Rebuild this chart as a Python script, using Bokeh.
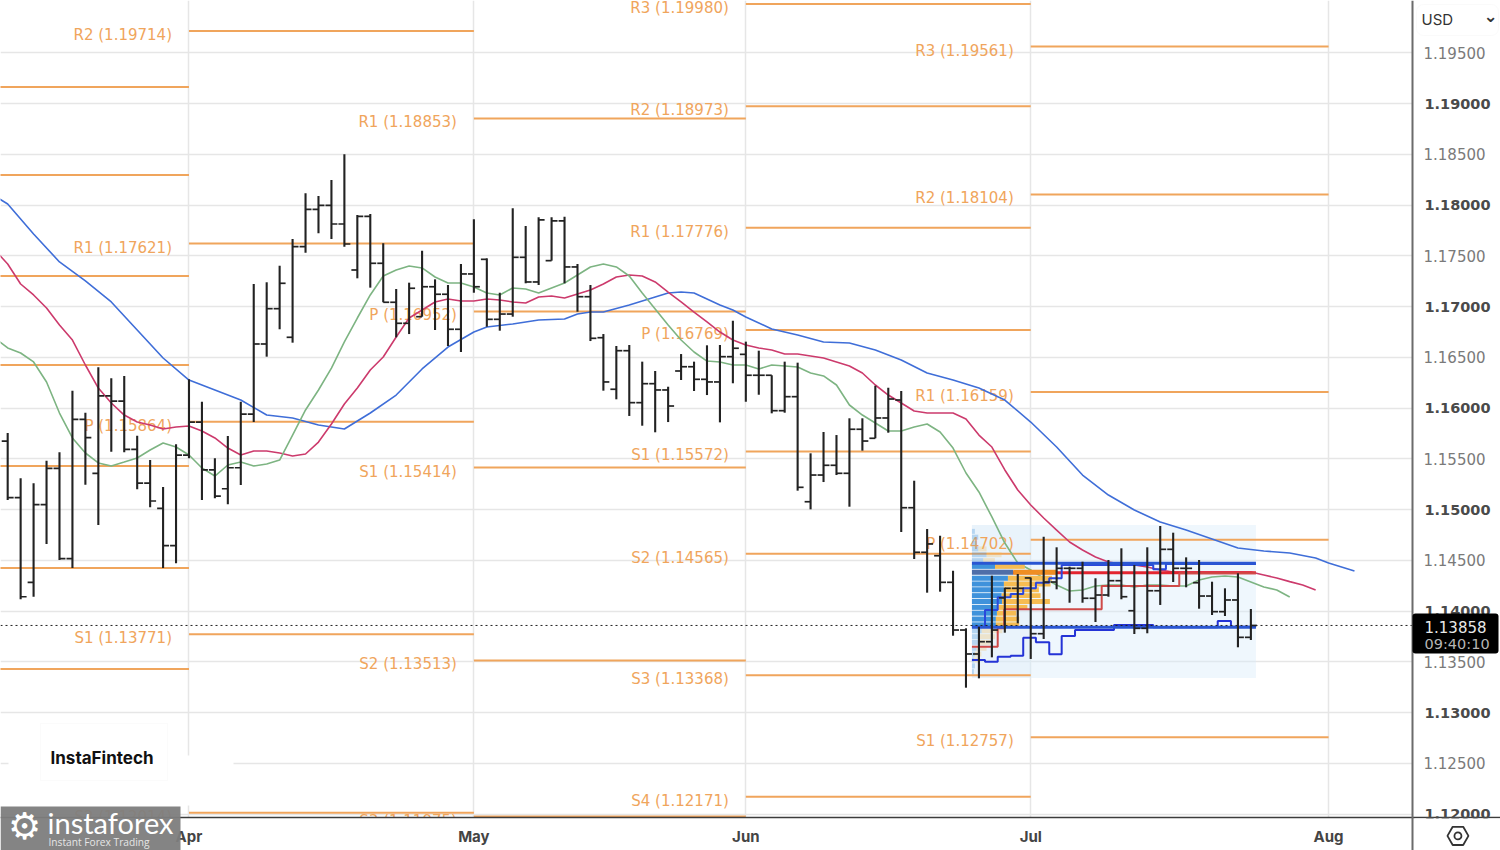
from bokeh.plotting import figure
from bokeh.embed import file_html
from bokeh.resources import INLINE
from bokeh.core.properties import value
from bokeh.models import (ColumnDataSource, FixedTicker, Label, BoxAnnotation, Grid,
                          LinearAxis, Range1d, NumeralTickFormatter)

first_bar = -14
highs = [1.15754,1.15308,1.15259,1.15481,1.15564,1.16171,1.15954,1.16401,1.16293,1.16316,1.15727,1.15488,1.15222,1.15643,
1.16283,1.16062,1.15505,1.15725,1.16062,1.17222,1.17239,1.17402,1.17665,1.18116,1.18089,1.18247,1.185,1.17902,1.17912,1.17623,1.17173,1.17235,1.1755,1.17268,1.17212,1.17419,
1.17859,1.17475,1.17136,1.17968,1.17793,1.17879,1.17879,1.17885,1.17419,1.17212,1.16729,1.16611,1.16621,1.16457,1.16365,1.1621,1.16532,1.16457,1.16618,1.16621,1.1686,
1.16654,1.16565,1.16323,1.16457,1.16447,1.15554,1.15764,1.15734,1.15899,1.15899,1.1622,1.162,1.16168,1.15284,1.14808,1.14742,1.14397,1.1383,1.13846,1.14348,1.1423,1.14365,
1.1433,1.14732,1.14628,1.14437,1.14486,1.14323,1.14503,1.14618,1.14454,1.14628,1.14838,1.14772,1.14529,1.14503,1.14289,1.14224,1.14372,1.1402]
lows = [1.15094,1.14116,1.14141,1.14661,1.14503,1.14424,1.15245,1.14848,1.1557,1.15564,1.15199,1.15022,1.14424,1.1447,
1.15505,1.15094,1.15111,1.15052,1.15242,1.15862,1.16506,1.16776,1.16644,1.1753,1.17722,1.17665,1.1759,1.17278,1.17186,1.17042,1.16697,1.16729,1.169,1.16769,1.16611,1.16552,
1.17136,1.16801,1.16762,1.169,1.17229,1.17212,1.17452,1.17229,1.16949,1.1666,1.16171,1.16086,1.15922,1.15826,1.15761,1.15862,1.16276,1.16168,1.16128,1.15859,1.16244,
1.16062,1.16131,1.15948,1.15954,1.15186,1.15002,1.15271,1.1534,1.15028,1.1558,1.15702,1.15757,1.14779,1.14513,1.14181,1.14191,1.13757,1.13245,1.13337,1.13544,1.13787,1.13879,
1.13528,1.13725,1.14214,1.14082,1.14082,1.13892,1.14141,1.14116,1.13774,1.13781,1.1406,1.14286,1.14234,1.14023,1.13961,1.13951,1.13643,1.13715]
opens = [1.15675,1.15117,1.14283,1.15048,1.15406,1.14516,1.15889,1.15357,1.16119,1.16069,1.15593,1.15261,1.15012,1.14644,
1.15537,1.15862,1.1539,1.15205,1.15412,1.15941,1.16631,1.16979,1.16697,1.1759,1.17958,1.17997,1.17813,1.1736,1.17889,1.17426,1.17042,1.16835,1.169,1.17195,1.17121,1.16776,
1.17321,1.17465,1.16874,1.16926,1.17485,1.17242,1.17452,1.17843,1.1739,1.17097,1.16693,1.16185,1.16565,1.16053,1.1624,1.16178,1.16365,1.16407,1.16283,1.16257,1.16506,
1.16529,1.16323,1.16323,1.15974,1.16112,1.15077,1.1534,1.15436,1.15357,1.15791,1.15702,1.15902,1.16079,1.15018,1.14579,1.14545,1.14283,1.13813,1.13577,1.13698,1.14129,1.14224,
1.14326,1.13777,1.14286,1.14421,1.14421,1.14126,1.14158,1.14299,1.14003,1.1383,1.142,1.14608,1.14421,1.14279,1.14148,1.13994,1.14109,1.13741]
closes = [1.15117,1.14141,1.15048,1.15406,1.14516,1.15889,1.15708,1.16119,1.16069,1.15593,1.15261,1.15084,1.14644,1.15537,
1.15862,1.1539,1.15133,1.15412,1.15941,1.16631,1.16979,1.17229,1.1759,1.17958,1.17997,1.17813,1.17616,1.17889,1.17426,1.17042,1.16835,1.1718,1.17195,1.17121,1.16776,1.17321,
1.17195,1.16874,1.16926,1.17485,1.17242,1.17853,1.17843,1.1739,1.17097,1.16687,1.16257,1.16565,1.16053,1.1624,1.16178,1.1602,1.16407,1.16283,1.16257,1.16506,1.16589,
1.16323,1.16323,1.15974,1.16112,1.15219,1.1534,1.15436,1.15357,1.15791,1.15675,1.15902,1.16089,1.15018,1.14579,1.14661,1.14283,1.13813,1.13577,1.13698,1.13813,1.14224,1.14224,
1.13777,1.14286,1.14421,1.14421,1.14126,1.14158,1.14299,1.14141,1.1383,1.142,1.14608,1.14421,1.14421,1.14148,1.13994,1.14109,1.13741,1.13858]

blue_i = [-15,-14,-12,-10,-8,-6,-4,-2,0,2,4,6,8,10,12,14,16,18,20,22,23,25,27,29,30,31,32,34,36,37,38,39,41,42,43,45,47,49,51,53,55,57,59,61,63,65,67,69,71,73,75,77,79,81,83,85,87,88,90]
blue_v = [1.18089,1.1801,1.17715,1.17439,1.17252,1.17045,1.16769,1.16493,1.16276,1.16178,1.16079,1.15931,1.15902,1.15833,1.15793,1.15951,1.16128,1.16385,1.16601,1.16749,1.16798,1.16828,1.16867,1.16877,1.16926,1.16946,1.16946,1.17015,1.17094,1.17133,1.17143,1.17133,1.17015,1.16966,1.16897,1.16779,1.1672,1.16651,1.16641,1.16572,1.16473,1.16345,1.16276,1.16197,1.16079,1.15862,1.15616,1.1534,1.15143,1.14995,1.14877,1.14798,1.1471,1.14621,1.14592,1.14572,1.14523,1.14473,1.14395]

red_start = -15
red_v = [1.17557,1.17419,1.17222,1.17114,1.16986,1.16818,1.1667,1.16424,1.16197,1.1605,1.15931,1.15862,1.15833,1.15793,1.15813,1.15823,1.15774,1.15705,1.15606,1.15537,1.15577,1.15577,1.15557,1.15527,1.15547,1.15665,1.15843,1.1604,1.16197,1.16375,1.16503,1.167,1.16887,1.16966,1.17045,1.17074,1.17055,1.17055,1.17074,1.17064,1.17045,1.17035,1.17094,1.17104,1.17084,1.17124,1.17163,1.17222,1.17291,1.17311,1.17301,1.17242,1.17143,1.17045,1.16946,1.16848,1.16749,1.1667,1.16621,1.16592,1.16572,1.16532,1.16532,1.16513,1.16493,1.16454,1.16414,1.16345,1.16227,1.16128,1.1605,1.15971,1.15951,1.15951,1.15951,1.15892,1.15734,1.15616,1.1539,1.15193,1.15045,1.14917,1.14798,1.1468,1.14601,1.14532,1.14483,1.14464,1.14454,1.14434,1.14404,1.14385,1.14385,1.14385,1.14385,1.14385,1.14385,1.14385,1.14355,1.14325,1.14290,1.14257,1.14207]

green_start = -15
green_v = [1.1669,1.16592,1.16542,1.16454,1.16257,1.15951,1.15705,1.15557,1.15459,1.15429,1.15468,1.15508,1.15587,1.15656,1.15616,1.15537,1.15409,1.1533,1.15439,1.15468,1.15429,1.15449,1.15488,1.15734,1.15981,1.16178,1.16394,1.16651,1.16887,1.17114,1.17301,1.1736,1.17399,1.1738,1.17291,1.17232,1.17232,1.17192,1.17133,1.17114,1.17183,1.17173,1.17133,1.17183,1.17232,1.17311,1.1739,1.17419,1.1739,1.17301,1.17133,1.16976,1.16818,1.1667,1.16552,1.16463,1.16454,1.16424,1.16424,1.16385,1.16424,1.16414,1.16404,1.16345,1.16316,1.16227,1.1603,1.15931,1.15853,1.15774,1.15774,1.15813,1.15843,1.15764,1.15606,1.1536,1.15173,1.14927,1.1467,1.14473,1.14404,1.14325,1.14257,1.14198,1.14207,1.14247,1.14257,1.14257,1.14237,1.14257,1.14257,1.14247,1.14247,1.14306,1.14335,1.14345,1.14335,1.14286,1.14237,1.14207,1.14138]

month_ticks = [0, 22, 43, 65, 88]
month_names = ["Apr", "May", "Jun", "Jul", "Aug"]
mar_start = -15
mar_levels = [1.19163, 1.18296, 1.17301, 1.16424, 1.15429, 1.14424, 1.13429]
apr_names = ["R2", "R1", "P", "S1", "S2"]
apr_levels = [1.19714, 1.17621, 1.15864, 1.13771, 1.12014]
may_names = ["R1", "P", "S1", "S2", "S3"]
may_levels = [1.18853, 1.16952, 1.15414, 1.13513, 1.11975]
jun_names = ["R3", "R2", "R1", "P", "S1", "S2", "S3", "S4"]
jun_levels = [1.19980, 1.18973, 1.17776, 1.16769, 1.15572, 1.14565, 1.13368, 1.12171]
jul_names = ["R3", "R2", "R1", "P", "S1"]
jul_levels = [1.19561, 1.18104, 1.16159, 1.14702, 1.12757]

vp_left, vp_right = 60.46, 82.39
vp_top, vp_bottom = 1.14848, 1.13340
vp_price = [1.14785,1.14728,1.1467,1.14612,1.14555,1.14497,1.1444,1.14382,1.14324,1.14267,1.14209,1.14152,1.14094,1.14036,1.13979,1.13921,1.13864,1.13806,1.13748,1.13691,1.13633,1.13576,1.13518,1.1346,1.13403]
vp_up = [.23,.49,.36,.49,1.13,.87,1.78,3.19,2.78,2.47,2.47,2.3,2.32,1.98,1.93,1.85,1.85,.75,.6,.49,.36,.23,.15,.23,.15]
vp_down = [0,0,0,.64,1.16,.9,2.3,3.35,3.4,3.6,2.7,3.0,3.7,2.3,1.5,1.8,1.8,1.6,1.2,.9,.77,.5,.33,0,0]
vah = 1.14470
val = 1.13840
poc = 1.14378
poc_from = 63.6
dev_val_x = [60.46,61.47,62.45,63.45,64.42,65.4,66.43,67.39,68.42,71.43,74.46,79.44,80.46,82.39]
dev_val_y = [1.13518,1.13501,1.1355,1.1356,1.13737,1.13692,1.13574,1.13754,1.13813,1.13863,1.1384,1.13902,1.13846,1.13846]
dev_vah_x = [60.46,61.47,62.45,63.45,64.42,65.4,66.43,67.39,74.46,75.44,82.39]
dev_vah_y = [1.13846,1.1401,1.14135,1.14168,1.14224,1.14279,1.14323,1.14454,1.14411,1.14464,1.14464]
dev_poc_x = [60.46,62.45,62.95,70.48,76.47,82.39]
dev_poc_y = [1.13649,1.1383,1.14017,1.14247,1.14372,1.14372]

last_price = 1.13858
countdown = "09:40:10"
y_minor_ticks = [1.125,1.135,1.145,1.155,1.165,1.175,1.185,1.195]
y_major_ticks = [1.12,1.13,1.14,1.15,1.16,1.17,1.18,1.19]

FONT = "DejaVu Sans"
ORANGE = "#f0a55c"
X0, X_SPINE, X1 = -14.555, 94.48, 101.276
Y0, Y_SPINE, Y1 = 1.11641, 1.11966, 1.20015

p = figure(width=1500, height=850, output_backend="svg", toolbar_location=None,
           x_range=Range1d(X0, X1), y_range=Range1d(Y0, Y1),
           x_axis_location=None, y_axis_location=None,
           min_border=0, outline_line_color=None, background_fill_color="white")
p.grid.grid_line_color = None

ax_r = LinearAxis(ticker=FixedTicker(ticks=y_minor_ticks), formatter=NumeralTickFormatter(format="0.00000"),
                  fixed_location=X_SPINE, bounds=(Y0, Y1))
ax_r.major_tick_line_color = None
ax_r.minor_tick_line_color = None
ax_r.axis_line_color = "#6b6b6b"
ax_r.axis_line_width = 2
ax_r.major_label_text_color = "#7a7a7a"
ax_r.major_label_text_font = FONT
ax_r.major_label_text_font_size = "15px"
ax_r.major_label_standoff = 11
ax_r.major_tick_in = 0
ax_r.major_tick_out = 0
p.add_layout(ax_r, "right")

ax_b = LinearAxis(ticker=FixedTicker(ticks=month_ticks),
                  major_label_overrides=dict(zip(month_ticks, month_names)),
                  fixed_location=Y_SPINE, bounds=(X0, X1))
ax_b.major_tick_line_color = None
ax_b.minor_tick_line_color = None
ax_b.axis_line_color = "#3c3c3c"
ax_b.axis_line_width = 1.5
ax_b.major_label_text_color = "#444444"
ax_b.major_label_text_font = "Inter"
ax_b.major_label_text_font_size = "15px"
ax_b.major_label_text_font_style = "bold"
ax_b.major_label_standoff = 9
ax_b.major_tick_in = 0
ax_b.major_tick_out = 0
p.add_layout(ax_b, "below")

p.add_layout(Grid(dimension=1, ticker=FixedTicker(ticks=sorted(y_minor_ticks + y_major_ticks)),
                  grid_line_color="#e6e6e6", grid_line_width=1.5))
p.add_layout(Grid(dimension=0, ticker=FixedTicker(ticks=month_ticks),
                  grid_line_color="#e6e6e6", grid_line_width=1.5))

# blank the price scale strip over the grid
p.quad(left=[X_SPINE], right=[X1], top=[Y1], bottom=[Y0], fill_color="white", line_color=None)

# volume-profile backdrop
p.quad(left=[vp_left], right=[vp_right], top=[vp_top], bottom=[vp_bottom],
       fill_color="#d9ecfa", fill_alpha=0.42, line_color=None)
p.quad(left=[vp_left], right=[month_ticks[3]], top=[vp_top], bottom=[vp_bottom],
       fill_color="#d9ecfa", fill_alpha=0.30, line_color=None)

# pivot levels
starts = [mar_start, month_ticks[0], month_ticks[1], month_ticks[2], month_ticks[3]]
ends = [month_ticks[0], month_ticks[1], month_ticks[2], month_ticks[3], month_ticks[4]]
groups = [([""] * len(mar_levels), mar_levels), (apr_names, apr_levels), (may_names, may_levels),
          (jun_names, jun_levels), (jul_names, jul_levels)]
seg_x0, seg_x1, seg_y, txt_x, txt_y, txt = [], [], [], [], [], []
for s, e, (names, levels) in zip(starts, ends, groups):
    for n, l in zip(names, levels):
        seg_x0.append(s); seg_x1.append(e); seg_y.append(l)
        if n:
            txt_x.append(s); txt_y.append(l); txt.append(f"{n} ({l:.5f})")
p.segment(seg_x0, seg_y, seg_x1, seg_y, line_color=ORANGE, line_width=2)
p.text(txt_x, txt_y, text=txt, text_color=ORANGE, text_font=value(FONT), text_font_size="15px",
       text_align="right", text_baseline="middle", x_offset=-17, y_offset=4)

# time-scale strip hides whatever runs below the axis line
p.quad(left=[X0], right=[X1], top=[Y_SPINE], bottom=[Y0], fill_color="white", line_color=None)

# moving averages
p.line(blue_i, blue_v, line_color="#3f6ed8", line_width=1.6)
p.line(list(range(red_start, red_start + len(red_v))), red_v, line_color="#cc3a6c", line_width=1.6)
p.line(list(range(green_start, green_start + len(green_v))), green_v, line_color="#7db482", line_width=1.6)

# volume profile
p.segment([poc_from], [poc], [vp_right], [poc], line_color="#e32530", line_width=3)
inside = [val - 0.0002 <= q <= vah + 0.0002 for q in vp_price]
is_poc = [abs(q - poc) < 0.0002 for q in vp_price]
mid = [vp_left + u for u in vp_up]
end = [m + d for m, d in zip(mid, vp_down)]
p.hbar(y=vp_price, left=[vp_left] * len(vp_price), right=mid, height=0.00049,
       fill_color=["#4f6ea8" if c else "#3f92db" for c in is_poc],
       fill_alpha=[1 if i else 0.3 for i in inside], line_color=None)
p.hbar(y=vp_price, left=mid, right=end, height=0.00049,
       fill_color=["#ef8e23" if c else "#f6bc52" for c in is_poc],
       fill_alpha=[1 if i else 0.28 for i in inside], line_color=None)
p.step(dev_poc_x, dev_poc_y, mode="after", line_color="#cf4a48", line_width=2)
p.step(dev_val_x, dev_val_y, mode="after", line_color="#2433d6", line_width=2)
p.step(dev_vah_x, dev_vah_y, mode="after", line_color="#2b47dc", line_width=2)
p.segment([vp_left, vp_left], [vah, val], [vp_right, vp_right], [vah, val], line_color="#2a56d2", line_width=3)

# OHLC bars
idx = list(range(first_bar, first_bar + len(highs)))
src = ColumnDataSource(dict(i=idx, h=highs, l=lows, o=opens, c=closes,
                            il=[k - 0.46 for k in idx], ir=[k + 0.46 for k in idx]))
p.segment("i", "h", "i", "l", source=src, line_color="#222222", line_width=2.1)
p.segment("il", "o", "i", "o", source=src, line_color="#222222", line_width=1.7)
p.segment("i", "c", "ir", "c", source=src, line_color="#222222", line_width=1.7)

p.segment([X0], [last_price], [X_SPINE], [last_price], line_color="#222222", line_dash="2 3", line_width=1)

# bold whole-cent price labels
for t in y_major_ticks:
    p.add_layout(Label(x=1424, y=t, x_units="canvas", y_units="data", text=f"{t:.5f}",
                       text_font=FONT, text_font_size="14.5px", text_font_style="bold",
                       text_color="#4a4a4a", text_baseline="middle"))

# the lowest price label is cut by the time scale
p.add_layout(BoxAnnotation(left=1414, right=1500, top=818, bottom=850, left_units="canvas", right_units="canvas",
                           top_units="canvas", bottom_units="canvas", fill_color="#ffffff", fill_alpha=1,
                           line_color=None))

# current price tag
p.add_layout(BoxAnnotation(left=1412, right=1498, top=613, bottom=653, left_units="canvas", right_units="canvas",
                           top_units="canvas", bottom_units="canvas", fill_color="#000000", fill_alpha=1,
                           line_color=None, border_radius=3))
p.add_layout(Label(x=1424, y=626, x_units="canvas", y_units="canvas", text=f"{last_price:.5f}", text_font=FONT,
                   text_font_size="15px", text_color="#e8e8e8", text_baseline="middle"))
p.add_layout(Label(x=1424, y=643, x_units="canvas", y_units="canvas", text=countdown, text_font=FONT,
                   text_font_size="14.5px", text_color="#b5b5b5", text_baseline="middle"))

# currency selector
p.add_layout(BoxAnnotation(left=1416, right=1498, top=4, bottom=35, left_units="canvas", right_units="canvas",
                           top_units="canvas", bottom_units="canvas", fill_color="#ffffff", fill_alpha=1,
                           line_color="#eeeeee", line_width=1, border_radius=7))
p.add_layout(Label(x=1421, y=19, x_units="canvas", y_units="canvas", text="USD", text_font="Inter",
                   text_font_size="15px", text_color="#333333", text_baseline="middle"))
p.add_layout(Label(x=1483, y=15, x_units="canvas", y_units="canvas", text="⌄", text_font="DejaVu Sans",
                   text_font_size="17px", text_font_style="bold", text_color="#333333", text_baseline="middle"))

# settings icon
icon_x, icon_y = 97.99, 1.11785
p.scatter([icon_x], [icon_y], marker="hex", size=21, fill_color=None, line_color="#333333", line_width=1.8, level="overlay")
p.scatter([icon_x], [icon_y], marker="circle", size=7, fill_color=None, line_color="#333333", line_width=1.8, level="overlay")

# watermark backing and logos
p.add_layout(BoxAnnotation(left=8, right=233, top=755, bottom=805, left_units="canvas", right_units="canvas",
                           top_units="canvas", bottom_units="canvas", fill_color="#ffffff", fill_alpha=1,
                           line_color=None))
p.add_layout(BoxAnnotation(left=40, right=167, top=723, bottom=780, left_units="canvas", right_units="canvas",
                           top_units="canvas", bottom_units="canvas", fill_color="#ffffff", fill_alpha=0.6,
                           line_color="#f3f3f3", line_width=1))
p.add_layout(Label(x=50, y=757, x_units="canvas", y_units="canvas", text="InstaFintech", text_font="Inter",
                   text_font_size="17px", text_font_style="bold", text_color="#111111", text_baseline="middle"))
p.add_layout(BoxAnnotation(left=0, right=180, top=806, bottom=850, left_units="canvas", right_units="canvas",
                           top_units="canvas", bottom_units="canvas", fill_color="#7d7d7d", fill_alpha=0.95,
                           line_color=None))
p.add_layout(Label(x=24, y=826, x_units="canvas", y_units="canvas", text="⚙", text_font="DejaVu Sans",
                   text_font_size="37px", text_color="#ffffff", text_baseline="middle", text_align="center"))
p.add_layout(Label(x=47, y=822, x_units="canvas", y_units="canvas", text="instaforex", text_font="Lato",
                   text_font_size="29px", text_color="#ffffff", text_baseline="middle"))
p.add_layout(Label(x=48, y=841, x_units="canvas", y_units="canvas", text="Instant Forex Trading", text_font="Open Sans",
                   text_font_size="10.2px", text_color="#e6e6e6", text_baseline="middle"))

open("out.html", "w").write(file_html(p, INLINE))
